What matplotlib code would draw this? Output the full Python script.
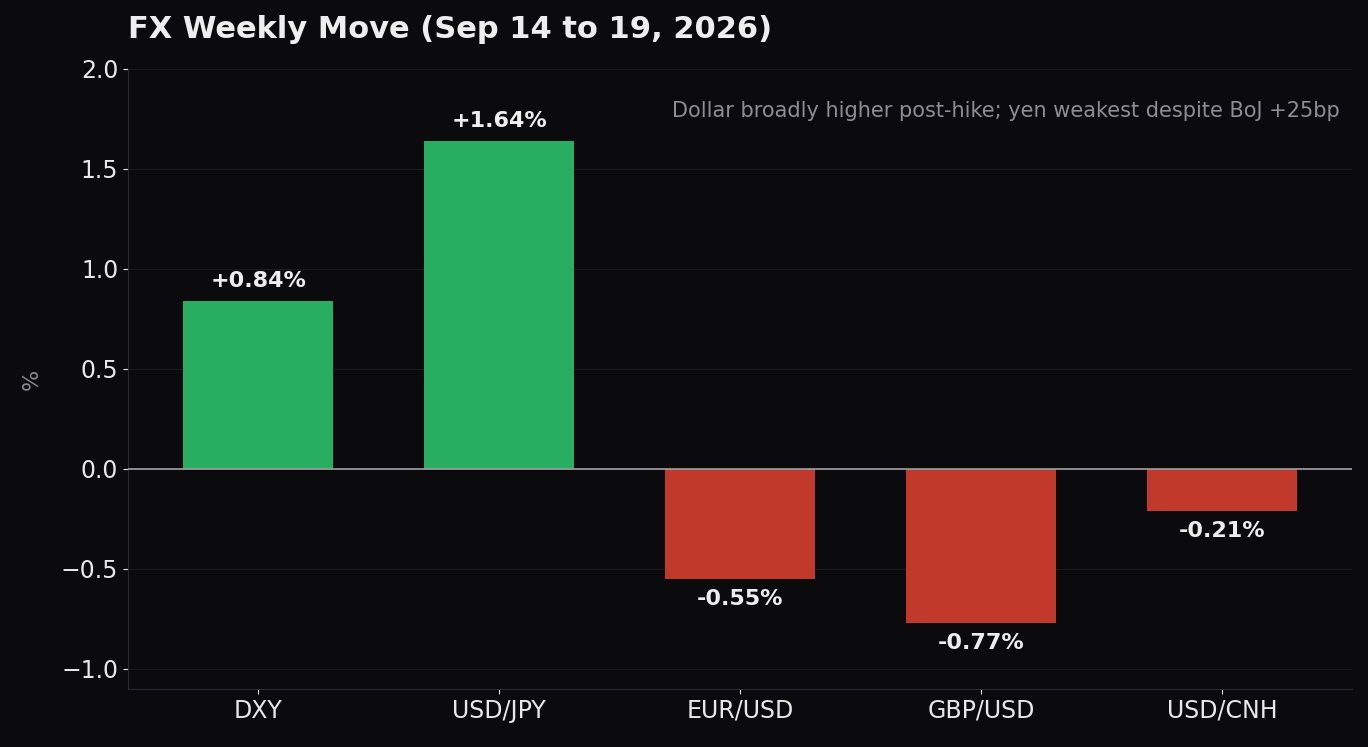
import matplotlib
matplotlib.use("Agg")
import matplotlib.pyplot as plt

pairs = ["DXY", "USD/JPY", "EUR/USD", "GBP/USD", "USD/CNH"]
moves = [0.84, 1.64, -0.55, -0.77, -0.21]
labels = ["+0.84%", "+1.64%", "-0.55%", "-0.77%", "-0.21%"]

bg = "#0b0b0d"
fig = plt.figure(figsize=(13.68, 7.47), dpi=100, facecolor=bg)
ax = fig.add_axes([128/1368, 1-689/747, (1352-128)/1368, (689-69)/747], facecolor=bg)
colors = ["#27ae60" if v >= 0 else "#c0392b" for v in moves]
x = list(range(len(pairs)))
ax.bar(x, moves, width=0.62, color=colors, zorder=3)
for xi, v, l in zip(x, moves, labels):
    off = 0.05 if v >= 0 else -0.05
    ax.text(xi, v + off, l, ha="center", va="bottom" if v >= 0 else "top",
            color="#eeeeee", fontsize=16, fontweight="bold", zorder=4)
ax.axhline(0, color="#a0a0a5", lw=1.2, zorder=4)
ax.set_ylim(-1.1, 2.0)
ax.set_xlim(-0.54, 4.54)
ax.set_xticks(x)
ax.set_xticklabels(pairs)
ax.set_yticks([-1.0, -0.5, 0.0, 0.5, 1.0, 1.5, 2.0])
ax.yaxis.grid(True, color="#1c1c1f", lw=0.8, zorder=0)
ax.tick_params(colors="#e8e8e8", labelsize=17)
for s in ["top", "right"]:
    ax.spines[s].set_visible(False)
for s in ["left", "bottom"]:
    ax.spines[s].set_color("#2a2a2e")
ax.set_ylabel("%", color="#8a8a8f", fontsize=16, labelpad=14)
ax.text(0.99, 0.933, "Dollar broadly higher post-hike; yen weakest despite BoJ +25bp",
        transform=ax.transAxes, ha="right", va="center", color="#8e8e93", fontsize=15)
fig.text(128/1368, 1-29/747, "FX Weekly Move (Sep 14 to 19, 2026)", ha="left", va="center",
         color="#eeeeee", fontsize=22, fontweight="bold")
fig.savefig("out.png", dpi=100, facecolor=bg)
